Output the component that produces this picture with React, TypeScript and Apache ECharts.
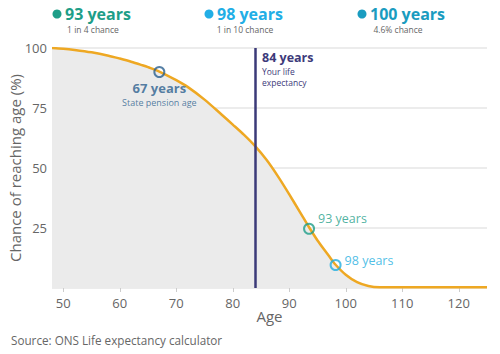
import React, { useEffect, useRef } from "react";
import * as echarts from "echarts";

const ages = [48, 50, 52, 55, 58, 60, 62, 64, 65, 67, 70, 72, 75, 78, 80, 82, 84, 86, 88, 90, 92, 93.5, 95, 97, 98, 100, 102, 104, 106, 110, 115, 120, 125];
const chance = [100, 99.7, 99.2, 98.2, 96.8, 95.6, 94.3, 92.8, 92, 90.2, 86.6, 83.8, 78.5, 72.3, 68.1, 63.8, 59, 53.3, 46.5, 39, 31.2, 25.3, 19.8, 13.4, 10.2, 5.5, 2.4, 0.8, 0.3, 0.3, 0.3, 0.3, 0.3];
const xTicks = [50, 60, 70, 80, 90, 100, 110, 120];
const yTicks = [25, 50, 75, 100];
const lifeExpectancy = 84;

const milestones = [
  { age: 67, value: 90, title: "67 years", sub: "State pension age", color: "#2b5f8e" },
  { age: 93.5, value: 24.7, title: "93 years", sub: "", color: "#1e9e88" },
  { age: 98.2, value: 9.6, title: "98 years", sub: "", color: "#22aee0" },
];

const headline = [
  { title: "93 years", sub: "1 in 4 chance", color: "#1e9e88" },
  { title: "98 years", sub: "1 in 10 chance", color: "#22aee6" },
  { title: "100 years", sub: "4.6% chance", color: "#1a9cc0" },
];

const lifeLabel = ["84 years", "Your life", "expectancy"];

const FONT = "Open Sans";

export default function App() {
  const ref = useRef<HTMLDivElement>(null);
  useEffect(() => {
    const chart = echarts.init(ref.current!, null, { renderer: "svg" });
    const headX = [57, 209, 362];
    const graphics: any[] = [];
    headline.forEach((h, i) => {
      graphics.push({
        type: "circle",
        shape: { cx: headX[i], cy: 14, r: 4.5 },
        style: { fill: h.color },
      });
      graphics.push({
        type: "text",
        x: headX[i] + 8,
        y: 14,
        style: { text: h.title, fill: h.color, font: `bold 16px "${FONT}"`, textVerticalAlign: "middle" },
      });
      graphics.push({
        type: "text",
        x: headX[i] + 36,
        y: 29,
        style: { text: h.sub, fill: "#666", font: `8.5px "${FONT}"`, textAlign: "center", textVerticalAlign: "middle" },
      });
    });
    graphics.push({
      type: "text",
      x: 262,
      y: 57,
      style: { text: lifeLabel[0], fill: "#3d3a7a", font: `bold 12.5px "${FONT}"`, textVerticalAlign: "middle" },
    });
    graphics.push({
      type: "text",
      x: 262,
      y: 71.5,
      style: { text: lifeLabel[1], fill: "#3d3a7a", font: `8.5px "${FONT}"`, textVerticalAlign: "middle" },
    });
    graphics.push({
      type: "text",
      x: 262,
      y: 82.5,
      style: { text: lifeLabel[2], fill: "#3d3a7a", font: `8.5px "${FONT}"`, textVerticalAlign: "middle" },
    });
    graphics.push({
      type: "text",
      x: 11,
      y: 340,
      style: { text: "Source: ONS Life expectancy calculator", fill: "#666", font: `11.7px "${FONT}"`, textVerticalAlign: "middle" },
    });

    chart.setOption({
      animation: false,
      textStyle: { fontFamily: FONT },
      grid: { left: 52, right: 13, top: 48, bottom: 66, outerBoundsMode: "none", containLabel: false },
      xAxis: {
        type: "value",
        min: 48,
        max: 125,
        name: "Age",
        nameLocation: "middle",
        nameGap: 20,
        nameMoveOverlap: false,
        nameTextStyle: { color: "#666", fontSize: 15 },
        axisLine: { show: false },
        axisTick: { show: true, customValues: xTicks, length: 4, lineStyle: { color: "#ccc" } },
        axisLabel: { customValues: xTicks, color: "#666", fontSize: 13, margin: 8 },
        splitLine: { show: false },
      },
      yAxis: {
        type: "value",
        min: 0,
        max: 100,
        interval: 25,
        name: "Chance of reaching age (%)",
        nameLocation: "middle",
        nameGap: 30,
        nameMoveOverlap: false,
        nameTextStyle: { color: "#666", fontSize: 15 },
        axisLine: { show: false },
        axisTick: { show: false },
        axisLabel: {
          color: "#666",
          fontSize: 13,
          margin: 5,
          formatter: (v: number) => (yTicks.includes(v) ? String(v) : ""),
        },
        splitLine: { lineStyle: { color: "#e6e6e6", width: 1.5 } },
      },
      series: [
        {
          type: "line",
          data: ages.map((a, i) => [a, chance[i]]),
          smooth: 0.3,
          showSymbol: false,
          lineStyle: { color: "#eea823", width: 2.5 },
          areaStyle: { color: "#ebebeb", opacity: 1 },
          z: 2,
          markLine: {
            silent: true,
            symbol: "none",
            label: { show: false },
            lineStyle: { color: "#3b3a78", width: 2.5, type: "solid" },
            data: [{ xAxis: lifeExpectancy }],
          },
        },
        {
          type: "scatter",
          z: 5,
          symbol: "circle",
          symbolSize: 10,
          data: milestones.map((m, i) => ({
            value: [m.age, m.value],
            itemStyle: { color: "rgba(0,0,0,0)", borderColor: m.color, borderWidth: 2 },
            label: i === 0
              ? {
                  show: true,
                  position: "bottom",
                  distance: 2,
                  align: "center",
                  formatter: `{a|${m.title}}\n{b|${m.sub}}`,
                  rich: {
                    a: { color: m.color, fontSize: 13, fontWeight: "bold", lineHeight: 16, fontFamily: FONT },
                    b: { color: m.color, fontSize: 9, lineHeight: 12, fontFamily: FONT },
                  },
                }
              : {
                  show: true,
                  position: "right",
                  distance: 3,
                  offset: i === 1 ? [0, -10] : [0, -4],
                  formatter: m.title,
                  color: m.color,
                  fontSize: 12.5,
                  fontFamily: FONT,
                },
          })),
        },
      ],
      graphic: graphics,
    });
    return () => chart.dispose();
  }, []);
  return <div ref={ref} style={{ width: 500, height: 354, position: "absolute", left: 0, top: 0 }} />;
}
